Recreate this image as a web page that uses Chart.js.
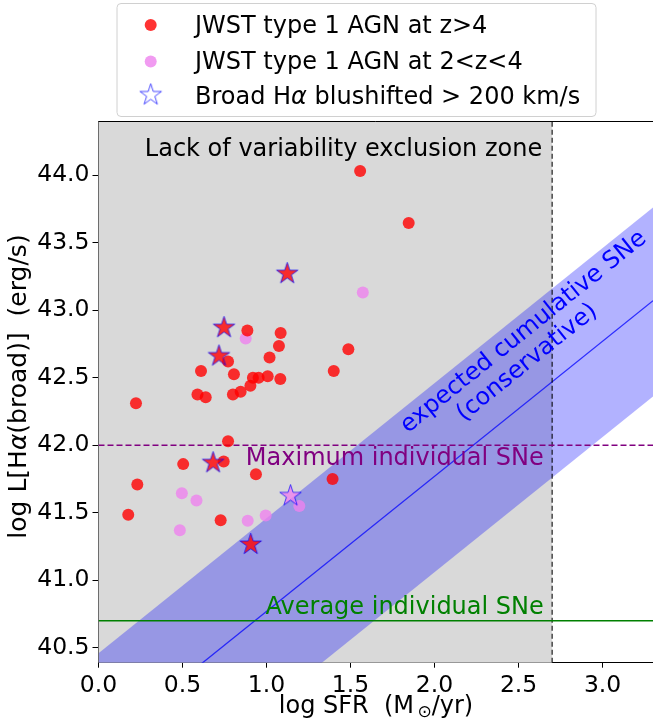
<!DOCTYPE html>
<html>
<head>
<meta charset="utf-8">
<script src="https://cdn.jsdelivr.net/npm/chart.js@4/dist/chart.umd.min.js"></script>
<style>
  html, body { margin: 0; padding: 0; background: #fff; overflow: hidden; }
  #wrap { width: 653px; height: 725px; }
  canvas { display: block; }
</style>
</head>
<body>
<div id="wrap"><canvas id="chart"></canvas></div>
<script>
// points rouges (z>4), sans etoile
const redX = [1.557, 1.846, 0.886, 1.084, 1.074, 1.487, 0.771, 1.018, 0.610, 0.806, 1.400, 0.919, 0.953, 1.007, 1.082,
              0.904, 0.846, 0.800, 0.589, 0.638, 0.223, 0.771, 0.504, 0.745, 0.937, 1.393, 0.231, 0.177, 0.727];
const redY = [44.03, 43.645, 42.85, 42.83, 42.735, 42.71, 42.62, 42.65, 42.55, 42.525, 42.55, 42.50, 42.50, 42.51, 42.49,
              42.44, 42.395, 42.375, 42.375, 42.355, 42.31, 42.03, 41.86, 41.88, 41.785, 41.75, 41.71, 41.485, 41.445];

// points roses (2<z<4)
const pinkX = [1.573, 0.876, 0.496, 0.583, 1.195, 0.995, 0.888, 0.484];
const pinkY = [43.13, 42.79, 41.645, 41.59, 41.55, 41.48, 41.44, 41.37];

// etoiles (Halpha decale vers le bleu)
const starX = [1.123, 0.747, 0.717, 0.682, 0.906, 1.143];
const starY = [43.27, 42.87, 42.66, 41.87, 41.265, 41.625];
const starKind = ["red", "red", "red", "red", "red", "pink"];

// bande SNe cumulees
const bandX = [0, 3.3];
const bandUpper = [40.46, 43.76];
const bandMid = [39.77, 43.07];
const bandLower = [39.06, 42.36];

// lignes de reference
const maxSNe = 42.0;
const avgSNe = 40.7;
const exclusionMax = 2.7;

const xTicks = [0, 0.5, 1.0, 1.5, 2.0, 2.5, 3.0];
const yTicks = [40.5, 41.0, 41.5, 42.0, 42.5, 43.0, 43.5, 44.0];

const RED = "rgba(255,0,0,0.8)";
const PINK = "rgba(238,130,238,0.8)";
const FONT = "DejaVu Sans";

Chart.defaults.font.family = FONT;
Chart.defaults.color = "#000";

// etoile a 5 branches dessinee dans un canvas
function starCanvas(fill, stroke, r) {
    const size = Math.ceil(2 * r + 4);
    const c = document.createElement("canvas");
    c.width = size; c.height = size;
    const g = c.getContext("2d");
    const cx = size / 2, cy = size / 2;
    g.beginPath();
    for (let i = 0; i < 10; i++) {
        const rad = i % 2 === 0 ? r : r * 0.382;
        const a = -Math.PI / 2 + i * Math.PI / 5;
        g.lineTo(cx + rad * Math.cos(a), cy + rad * Math.sin(a));
    }
    g.closePath();
    if (fill) { g.fillStyle = fill; g.fill(); }
    g.strokeStyle = stroke;
    g.lineWidth = 1;
    g.stroke();
    return c;
}
const starRed = starCanvas(RED, "rgba(0,0,255,0.7)", 11.3);
const starPink = starCanvas(PINK, "rgba(0,0,255,0.7)", 11.3);
const starEmpty = starCanvas(null, "rgba(0,0,255,0.7)", 11.3);

const pts = (xs, ys) => xs.map((x, i) => ({ x: x, y: ys[i] }));

// texte en plusieurs morceaux (pour alpha italique, indice...)
function drawRuns(ctx, runs, x, y, align) {
    let total = 0;
    runs.forEach(r => { ctx.font = r.font; r.w = ctx.measureText(r.t).width; total += r.w; });
    let cx = align === "center" ? x - total / 2 : (align === "right" ? x - total : x);
    ctx.textAlign = "left";
    runs.forEach(r => {
        ctx.font = r.font;
        ctx.fillText(r.t, cx, y + (r.dy || 0));
        cx += r.w;
    });
}

const decor = {
    id: "decor",
    beforeDatasetsDraw(chart) {
        const { ctx, chartArea: a, scales: { x, y } } = chart;
        // zone grise
        ctx.save();
        ctx.fillStyle = "#d9d9d9";
        ctx.fillRect(a.left, a.top, x.getPixelForValue(exclusionMax) - a.left, a.bottom - a.top);
        ctx.restore();
    },
    afterDatasetsDraw(chart) {
        const { ctx, chartArea: a, scales: { x, y } } = chart;
        ctx.save();
        ctx.beginPath();
        ctx.rect(a.left, a.top, a.right - a.left, a.bottom - a.top);
        ctx.clip();
        const f = "24px " + FONT;
        ctx.font = f;
        ctx.textBaseline = "alphabetic";

        ctx.fillStyle = "#000";
        ctx.textAlign = "center";
        ctx.fillText("Lack of variability exclusion zone", x.getPixelForValue(1.458), y.getPixelForValue(44.143));

        ctx.fillStyle = "purple";
        ctx.textAlign = "right";
        ctx.fillText("Maximum individual SNe", x.getPixelForValue(2.65), y.getPixelForValue(41.854));

        ctx.fillStyle = "green";
        ctx.fillText("Average individual SNe", x.getPixelForValue(2.65), y.getPixelForValue(40.753));

        // texte incline le long de la bande
        const ang = Math.atan2(y.getPixelForValue(bandMid[1]) - y.getPixelForValue(bandMid[0]),
                               x.getPixelForValue(bandX[1]) - x.getPixelForValue(bandX[0]));
        ctx.translate(x.getPixelForValue(2.542), y.getPixelForValue(42.725));
        ctx.rotate(ang);
        ctx.fillStyle = "blue";
        ctx.textAlign = "center";
        ctx.textBaseline = "middle";
        ctx.fillText("expected cumulative SNe", 8, -13);
        ctx.fillText("(conservative)", -8.5, 13);
        ctx.restore();

        // cadre du haut
        ctx.save();
        ctx.strokeStyle = "#000";
        ctx.lineWidth = 1;
        ctx.beginPath();
        ctx.moveTo(a.left, a.top + 0.5);
        ctx.lineTo(a.right, a.top + 0.5);
        ctx.stroke();
        ctx.restore();
    },
    afterDraw(chart) {
        const f = "24px " + FONT;
        const fi = "italic 24px " + FONT;
        const { ctx } = chart;
        ctx.save();
        ctx.fillStyle = "#000";
        ctx.textBaseline = "alphabetic";

        // titre axe x
        drawRuns(ctx, [
            { t: "log SFR  (M", font: f },
            { t: "\u2009\u2299", font: "17px " + FONT, dy: 4 },
            { t: "/yr)", font: f }
        ], 376, 712.5, "center");

        // titre axe y
        ctx.save();
        ctx.translate(26, 386.5);
        ctx.rotate(-Math.PI / 2);
        drawRuns(ctx, [
            { t: "log L[H", font: "25px " + FONT },
            { t: "\u03B1", font: "italic 25px " + FONT },
            { t: "(broad)]  (erg/s)", font: "25px " + FONT }
        ], 0, 0, "center");
        ctx.restore();

        // legende
        ctx.beginPath();
        ctx.roundRect(117, 3.5, 479, 113, 4);
        ctx.fillStyle = "rgba(255,255,255,0.8)";
        ctx.fill();
        ctx.strokeStyle = "#d0d0d0";
        ctx.lineWidth = 1;
        ctx.stroke();

        ctx.fillStyle = RED;
        ctx.beginPath(); ctx.arc(150.7, 25, 6, 0, 2 * Math.PI); ctx.fill();
        ctx.fillStyle = PINK;
        ctx.beginPath(); ctx.arc(150.7, 61.5, 6, 0, 2 * Math.PI); ctx.fill();
        ctx.drawImage(starEmpty, 150.7 - starEmpty.width / 2, 95 - starEmpty.height / 2);

        ctx.fillStyle = "#000";
        drawRuns(ctx, [{ t: "JWST type 1 AGN at z>4", font: f }], 195, 33.3, "left");
        drawRuns(ctx, [{ t: "JWST type 1 AGN at 2<z<4", font: f }], 195, 69.3, "left");
        drawRuns(ctx, [
            { t: "Broad H", font: f },
            { t: "\u03B1", font: fi },
            { t: " blushifted > 200 km/s", font: f }
        ], 195, 104, "left");
        ctx.restore();
    }
};

new Chart(document.getElementById("chart"), {
    type: "scatter",
    data: {
        datasets: [
            {
                label: "stars",
                data: pts(starX, starY),
                pointStyle: starKind.map(k => k === "red" ? starRed : starPink),
                pointRadius: 11,
                order: 0
            },
            {
                label: "z>4",
                data: pts(redX, redY),
                backgroundColor: RED,
                borderWidth: 0,
                pointRadius: 6,
                order: 1
            },
            {
                label: "2<z<4",
                data: pts(pinkX, pinkY),
                backgroundColor: PINK,
                borderWidth: 0,
                pointRadius: 6,
                order: 2
            },
            {
                type: "line",
                label: "max SNe",
                data: pts(bandX, [maxSNe, maxSNe]),
                borderColor: "purple",
                borderWidth: 1.5,
                borderDash: [6, 3],
                pointRadius: 0,
                fill: false,
                order: 3
            },
            {
                type: "line",
                label: "avg SNe",
                data: pts(bandX, [avgSNe, avgSNe]),
                borderColor: "green",
                borderWidth: 1.5,
                pointRadius: 0,
                fill: false,
                order: 4
            },
            {
                type: "line",
                label: "exclusion",
                data: [{ x: exclusionMax, y: 40.39 }, { x: exclusionMax, y: 44.4 }],
                borderColor: "rgba(0,0,0,0.7)",
                borderWidth: 1.5,
                borderDash: [5, 3],
                pointRadius: 0,
                fill: false,
                order: 5
            },
            {
                type: "line",
                label: "mid",
                data: pts(bandX, bandMid),
                borderColor: "rgba(0,0,255,0.75)",
                borderWidth: 1.3,
                pointRadius: 0,
                fill: false,
                order: 6
            },
            {
                type: "line",
                label: "upper",
                data: pts(bandX, bandUpper),
                borderWidth: 0,
                borderColor: "rgba(0,0,0,0)",
                pointRadius: 0,
                fill: "+1",
                backgroundColor: "rgba(0,0,255,0.3)",
                order: 7
            },
            {
                type: "line",
                label: "lower",
                data: pts(bandX, bandLower),
                borderWidth: 0,
                borderColor: "rgba(0,0,0,0)",
                pointRadius: 0,
                fill: false,
                order: 8
            }
        ]
    },
    options: {
        responsive: true,
        maintainAspectRatio: false,
        animation: false,
        layout: { autoPadding: false, padding: { top: 121, left: 0, right: 0, bottom: 0 } },
        plugins: {
            legend: { display: false },
            tooltip: { enabled: false }
        },
        scales: {
            x: {
                type: "linear",
                min: 0,
                max: 3.3,
                afterFit: s => { s.height = 62.3; s.paddingLeft = 0; s.paddingRight = 0; },
                afterBuildTicks: s => { s.ticks = xTicks.map(v => ({ value: v })); },
                ticks: {
                    font: { size: 23.5 },
                    color: "#000",
                    padding: 4,
                    maxRotation: 0,
                    callback: v => v.toFixed(1)
                },
                grid: { drawOnChartArea: false, drawTicks: true, tickLength: 5, color: "#000" },
                border: { display: true, color: "#000", width: 1 }
            },
            y: {
                type: "linear",
                min: 40.39,
                max: 44.4,
                afterFit: s => { s.width = 98.5; s.paddingTop = 0; s.paddingBottom = 0; },
                afterBuildTicks: s => { s.ticks = yTicks.map(v => ({ value: v })); },
                ticks: {
                    font: { size: 23.5 },
                    color: "#000",
                    padding: 3,
                    callback: v => v.toFixed(1)
                },
                grid: { drawOnChartArea: false, drawTicks: true, tickLength: 6, color: "#000" },
                border: { display: true, color: "#000", width: 1 }
            }
        }
    },
    plugins: [decor]
});
</script>
</body>
</html>
